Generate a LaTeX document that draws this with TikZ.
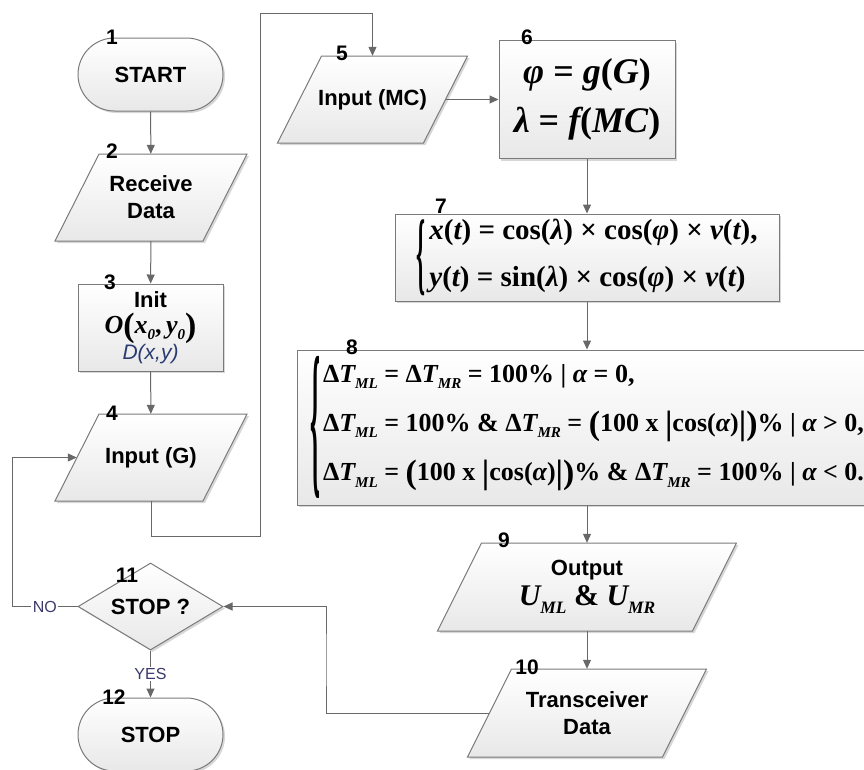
\documentclass[tikz,border=0pt]{standalone}
\usepackage{graphicx}
\usepackage{fontspec}
\setmainfont{Liberation Sans}
\newfontfamily\tnr{Liberation Serif}
\usetikzlibrary{arrows.meta,shapes.geometric,shapes.misc,shadows}
\definecolor{bordc}{HTML}{7A7A7A}
\definecolor{linec}{HTML}{686868}
\definecolor{lblc}{HTML}{3A3A6A}
\definecolor{dblue}{HTML}{283C70}
\newcommand\lblfont{\fontsize{22}{26}\selectfont\bfseries}
\newcommand\I[1]{{\itshape #1}}
\newcommand\U[1]{{\upshape #1}}
\newcommand\sbx[1]{\raisebox{-0.25em}{\scalebox{0.58}{#1}}}
\newcommand\bp[1]{\raisebox{-0.12em}{\scalebox{1.3}{#1}}}
\newcommand\bbrace[2]{\resizebox*{#1}{#2}{\tnr\bfseries\{}}
\newcommand\para[6]{%
  \path[shapebox] ({#2-#4/2+22},{#3-#5/2}) -- ({#2+#4/2+22},{#3-#5/2}) -- ({#2+#4/2-22},{#3+#5/2}) -- ({#2-#4/2-22},{#3+#5/2}) -- cycle;
  \node[txtnode, minimum width=#4pt, minimum height=#5pt] (#1) at (#2,#3) {#6};}
\tikzset{
  shapebox/.style={draw=bordc, line width=1pt, top color=white, bottom color=black!9,
    drop shadow={shadow xshift=2pt, shadow yshift=-2pt, fill=black!45, opacity=0.35}},
  term/.style={shapebox, rounded rectangle, minimum width=145pt, minimum height=73pt, inner sep=0pt, font=\lblfont},
  procbox/.style={shapebox, rectangle, inner sep=0pt, align=center, font=\lblfont},
  decis/.style={shapebox, diamond, inner sep=0pt, minimum width=145pt, minimum height=87pt, aspect=1.67, font=\lblfont},
  txtnode/.style={inner sep=0pt, align=center, font=\lblfont},
  num/.style={inner sep=0pt, font=\fontsize{21}{21}\selectfont\bfseries},
  arr/.style={draw=linec, line width=1pt, -{Triangle[length=9pt,width=8pt]}},
  lbl/.style={font=\fontsize{16}{16}\selectfont, text=lblc, fill=white, inner sep=1.5pt}
}
\begin{document}
\begin{tikzpicture}[x=1pt,y=-1pt]
\useasboundingbox (0,0) rectangle (864,769);
% shapes
\node[term] (n1) at (150.5,74.5) {START};
\para{n2}{151}{197.5}{148}{87}{Receive\\[1pt]Data}
\node[procbox, minimum width=145pt, minimum height=87pt] (n3) at (150.5,327.5)
  {Init\\[0pt]{\tnr\bfseries\itshape\fontsize{26}{26}\selectfont O\U{\bp{(}}x\sbx{0}\U{,}\,y\sbx{0}\U{\bp{)}}}\\[0pt]
   {\color{dblue}\mdseries\itshape\fontsize{21}{21}\selectfont D(x,y)}};
\para{n4}{151}{457.5}{148}{87}{Input (G)}
\para{n5}{372.5}{99.5}{146}{87}{Input (MC)}
\node[procbox, minimum width=176pt, minimum height=118pt] (n6) at (587,99.5)
  {{\tnr\bfseries\itshape\fontsize{36}{36}\selectfont φ \U{=} \I{g}\U{(}G\U{)}}\\[15pt]
   {\tnr\bfseries\itshape\fontsize{36}{36}\selectfont λ \U{=} \I{f}\U{(}MC\U{)}}};
\node[procbox, minimum width=384pt, minimum height=87pt] (n7) at (587,257.5)
  {$\vcenter{\hbox{\bbrace{9pt}{76pt}}}\hspace{4pt}\vcenter{\hbox{\tnr\bfseries\fontsize{29}{29}\selectfont\begin{tabular}{@{}l@{}}
   \I{x}(\I{t}) = cos(\I{λ}) × cos(\I{φ}) × \I{v}(\I{t}),\\[18pt]
   \I{y}(\I{t}) = sin(\I{λ}) × cos(\I{φ}) × \I{v}(\I{t})\end{tabular}}}$};
\node[procbox, minimum width=580pt, minimum height=155pt] (n8) at (587,427.5)
  {$\vcenter{\hbox{\bbrace{10pt}{142pt}}}\hspace{3pt}\vcenter{\hbox{\tnr\bfseries\fontsize{26}{26}\selectfont\begin{tabular}{@{}l@{}}
   Δ\I{T}\sbx{\I{ML}} = Δ\I{T}\sbx{\I{MR}} = 100\% | \I{α} = 0,\\[21pt]
   Δ\I{T}\sbx{\I{ML}} = 100\% \& Δ\I{T}\sbx{\I{MR}} = \bp{(}100 x \bp{|}cos(\I{α})\bp{|}\bp{)}\% | \I{α} > 0,\\[21pt]
   Δ\I{T}\sbx{\I{ML}} = \bp{(}100 x \bp{|}cos(\I{α})\bp{|}\bp{)}\% \& Δ\I{T}\sbx{\I{MR}} = 100\% | \I{α} < 0.\end{tabular}}}$};
\para{n9}{587}{587}{255}{88}{Output\\[4pt]{\tnr\bfseries\itshape\fontsize{30}{30}\selectfont U\sbx{ML} \U{\&} U\sbx{MR}}}
\para{n10}{587}{713}{195}{88}{Transceiver\\[1pt]Data}
\node[decis] (n11) at (150.5,606.5) {STOP ?};
\node[term] (n12) at (150.5,734.5) {STOP};
% numbers
\node[num] (k1) at (112,37) {1};
\node[num] (k2) at (112,151) {2};
\node[num] (k3) at (110,282) {3};
\node[num] (k4) at (112,413) {4};
\node[num] (k5) at (342,53) {5};
\node[num] (k6) at (527,37) {6};
\node[num] (k7) at (441,206) {7};
\node[num] (k8) at (352,347) {8};
\node[num] (k9) at (504,540) {9};
\node[num] (k10) at (527,667) {10};
\node[num] (k11) at (127,575) {11};
\node[num] (k12) at (114,697) {12};
% connectors
\coordinate (b1) at (260,536);
\coordinate (b2) at (260,13);
\coordinate (b3) at (326,660);
\coordinate (b4) at (12,530);
\draw[arr] (n1) -- (n2);
\draw[arr] (n2) -- (n3);
\draw[arr] (n3) -- (n4);
\draw[arr] (n4.south) |- (b1) -- (b2) -| (n5.north);
\draw[arr] (n5.east) -- (n5.east -| n6.west);
\draw[arr] (n6) -- (n7);
\draw[arr] (n7) -- (n8);
\draw[arr] (n8) -- (n9);
\draw[arr] (n9) -- (n10);
\draw[arr] (n10.west) -| (b3) |- (n11.east);
\draw[arr] (n11.west) -- (n11.west -| b4) node[lbl, midway] {NO} |- (n4.west);
\draw[arr] (n11) -- (n12) node[lbl, midway] {YES};
\end{tikzpicture}
\end{document}
